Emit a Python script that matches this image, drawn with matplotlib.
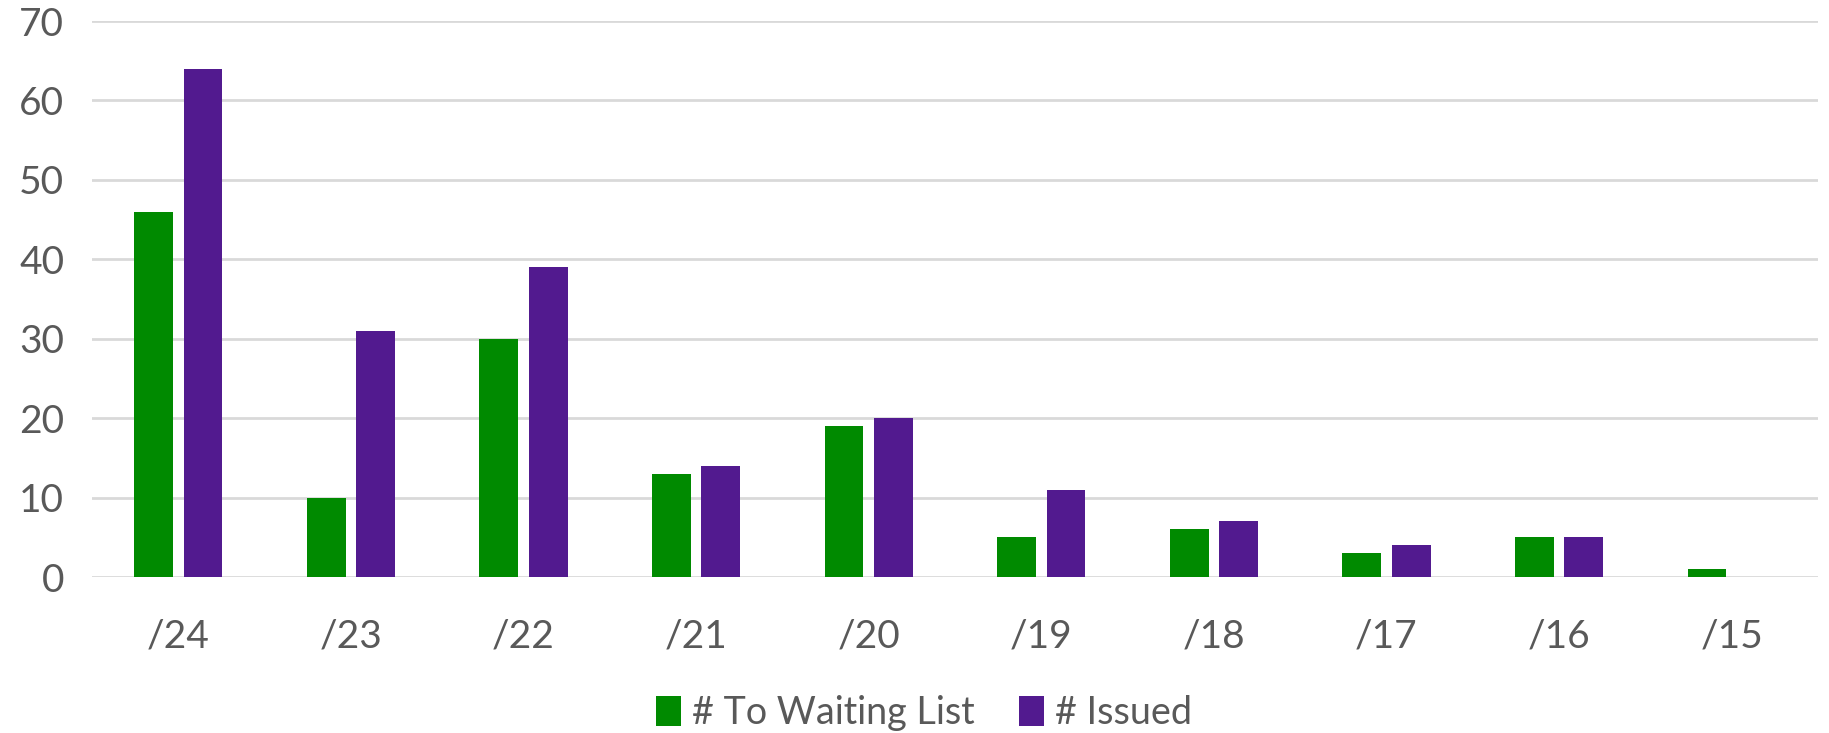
import matplotlib
matplotlib.use("Agg")
import matplotlib.pyplot as plt
import numpy as np

categories = ["/24", "/23", "/22", "/21", "/20", "/19", "/18", "/17", "/16", "/15"]
waiting = [46, 10, 30, 13, 19, 5, 6, 3, 5, 1]
issued = [64, 31, 39, 14, 20, 11, 7, 4, 5, 0]
yticks = [0, 10, 20, 30, 40, 50, 60, 70]

GREEN = "#008A00"
PURPLE = "#521A8F"
TEXT = "#595959"
GRID = "#D9D9D9"

plt.rcParams['font.family'] = ['Lato', 'DejaVu Sans']

fig = plt.figure(figsize=(18.29, 7.33), dpi=100)
ax = fig.add_axes([92/1829, 1-577/733, (1818-92)/1829, (577-21)/733])

x = np.arange(len(categories))
w = 0.225
off = 0.143
ax.bar(x - off, waiting, width=w, color=GREEN, label="# To Waiting List", zorder=3)
ax.bar(x + off, issued, width=w, color=PURPLE, label="# Issued", zorder=3)

ax.set_xlim(-0.5, len(categories) - 0.5)
ax.set_ylim(0, 70)
ax.set_yticks(yticks)
ax.set_xticks(x)
ax.set_xticklabels(categories)
ax.tick_params(axis='both', length=0, labelsize=28, colors=TEXT)
ax.tick_params(axis='x', pad=30)
ax.tick_params(axis='y', pad=20)
ax.grid(axis='y', color=GRID, linewidth=2, zorder=0)
for s in ax.spines.values():
    s.set_visible(False)

fig.legend(loc='center', bbox_to_anchor=(924/1829, 1-713/733), ncol=2, frameon=False,
           fontsize=27.2, labelcolor=TEXT, handlelength=0.66, handleheight=0.84,
           handletextpad=0.28, columnspacing=1.2)

fig.savefig("out.png", dpi=100)
